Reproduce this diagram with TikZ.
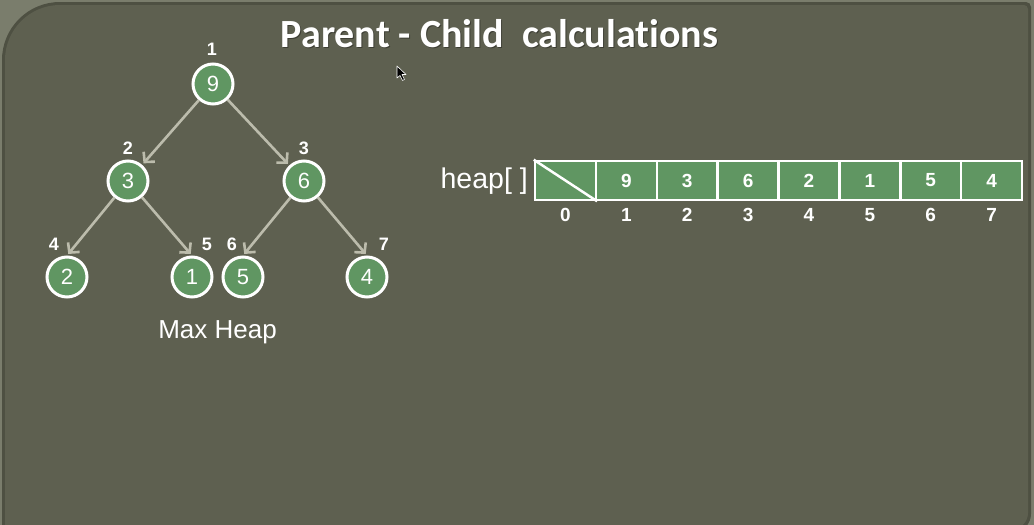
\documentclass[tikz,border=0pt]{standalone}
\usepackage{fontspec}
\setmainfont{Liberation Sans}
\newfontfamily\titlefont[Ligatures=NoCommon]{Carlito}
\usetikzlibrary{arrows.meta}
\definecolor{outerbg}{RGB}{122,125,108}
\definecolor{panelbg}{RGB}{94,96,80}
\definecolor{paneledge}{RGB}{78,80,66}
\definecolor{nodegreen}{RGB}{96,150,98}
\definecolor{arrowgray}{RGB}{188,188,172}
\begin{document}
\begin{tikzpicture}[x=1pt,y=-1pt,
  hn/.style={circle,draw=white,line width=3pt,fill=nodegreen,minimum size=40pt,inner sep=0pt,text=white,font=\fontsize{22}{22}\selectfont},
  idx/.style={text=white,inner sep=0pt,font=\bfseries\fontsize{18}{18}\selectfont},
  arr/.style={draw=arrowgray,line width=2.6pt,-{Straight Barb[length=7pt,width=15pt,line width=2.6pt]},shorten >=2pt},
  cell/.style={rectangle,draw=white,line width=2.5pt,fill=nodegreen,minimum width=60.875pt,minimum height=39pt,inner sep=0pt,text=white,font=\bfseries\fontsize{19}{19}\selectfont},
  aidx/.style={text=white,inner sep=0pt,font=\bfseries\fontsize{19}{19}\selectfont}]
\useasboundingbox (0,0) rectangle (1034,525);
% background
\fill[outerbg] (0,0) rectangle (1034,525);
\fill[paneledge] (2,560) [rounded corners=58pt] -- (2,2) [rounded corners=5pt] -- (1031,2) [rounded corners=18pt] -- (1031,532) -- (2,532) [sharp corners] -- cycle;
\fill[panelbg] (5,560) [rounded corners=55pt] -- (5,5) [rounded corners=4pt] -- (1028,5) [rounded corners=16pt] -- (1028,529) -- (5,529) [sharp corners] -- cycle;
% title
\node[anchor=base,inner sep=0pt,text=black!35!panelbg,font=\titlefont\bfseries\fontsize{40}{40}\selectfont] (tshadow) at (500.5,48.5) {Parent - Child\ \ calculations};
\node[anchor=base,inner sep=0pt,text=white,font=\titlefont\bfseries\fontsize{40}{40}\selectfont] (title) at (499.5,47) {Parent - Child\ \ calculations};
% cursor
\draw[fill=black,draw=white,line width=0.6pt,line join=round] (397,66) -- (397,78) -- (400,75.5) -- (402.5,80.5) -- (404.5,79.5) -- (402,74.5) -- (406,74.5) -- cycle;
% tree
\node[hn] (n1) at (213,84) {9};
\node[hn] (n2) at (128,181) {3};
\node[hn] (n3) at (304,181) {6};
\node[hn] (n4) at (67,277) {2};
\node[hn] (n5) at (192,277) {1};
\node[hn] (n6) at (243,277) {5};
\node[hn] (n7) at (367,277) {4};
\node[idx] (l1) at (212,49) {1};
\node[idx] (l2) at (128,148) {2};
\node[idx] (l3) at (304,148) {3};
\node[idx] (l4) at (54,244) {4};
\node[idx] (l5) at (207,244) {5};
\node[idx] (l6) at (232,244) {6};
\node[idx] (l7) at (384,244) {7};
\draw[arr] (n1) -- (n2);
\draw[arr] (n1) -- (n3);
\draw[arr] (n2) -- (n4.north);
\draw[arr] (n2) -- (n5.north);
\draw[arr] (n3) -- (n6.north);
\draw[arr] (n3) -- (n7.north);
\node[anchor=base,inner sep=0pt,text=white,font=\fontsize{26}{26}\selectfont] (cap) at (217.5,338) {Max Heap};
% array
\node[anchor=base east,inner sep=0pt,text=white,font=\fontsize{28.5}{28.5}\selectfont] (hl) at (528,188) {heap[ ]};
\foreach \i/\v in {0/,1/9,2/3,3/6,4/2,5/1,6/5,7/4}{
  \node[cell] (c\i) at ({535+60.875*(\i+0.5)},180.5) {\v};
  \node[aidx] (i\i) at ({535+60.875*(\i+0.5)},215) {\i};
}
\draw[white,line width=2.5pt] (c0.north west) -- (c0.south east);
\end{tikzpicture}
\end{document}
